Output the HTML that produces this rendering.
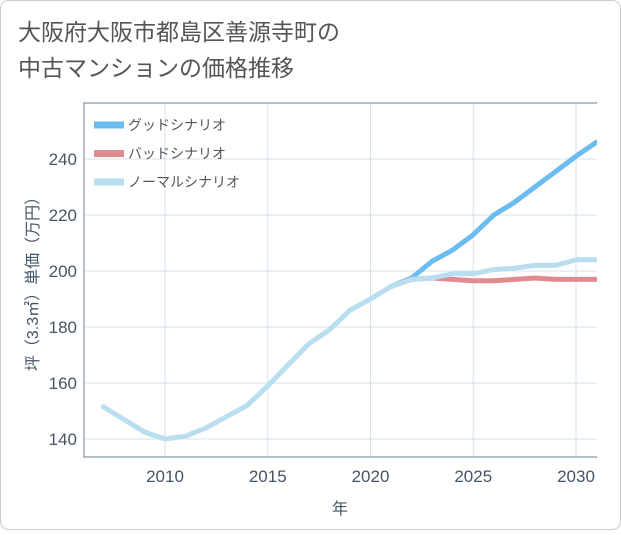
<!DOCTYPE html>
<html><head><meta charset="utf-8">
<style>
body{margin:0;background:#fff;}
#wrap{width:621px;height:530px;position:relative;font-family:"Liberation Sans","Noto Sans CJK JP",sans-serif;}
</style></head>
<body>
<div id="wrap">
<svg id="chart" width="621" height="530" xmlns="http://www.w3.org/2000/svg">
<rect x="0.5" y="0.5" width="620" height="529" rx="8" fill="#fff" stroke="#ccc"/>
<text x="18" y="40" font-size="23" fill="#555">大阪府大阪市都島区善源寺町の</text>
<text x="18" y="76" font-size="23" fill="#555">中古マンションの価格推移</text>
<g id="grid"></g>
<g id="series"></g>
<g id="legend"></g>
<text x="340" y="514" font-size="16" fill="#456" text-anchor="middle">年</text>
<text transform="translate(38,280) rotate(-90)" font-size="16" fill="#456" text-anchor="middle">坪（3.3㎡）単価（万円）</text>
</svg>
</div>
<script>
const years=[2007,2008,2009,2010,2011,2012,2013,2014,2015,2016,2017,2018,2019,2020,2021,2022,2023,2024,2025,2026,2027,2028,2029,2030,2031];
const normalVals=[151.5,147,142.5,140,141,144,148,152,159,166.5,174,179,186,190,194.5,197,197.5,199,199,200.5,201,202,202,204,204];
const goodYears=[2021,2022,2023,2024,2025,2026,2027,2028,2029,2030,2031];
const goodVals=[194.5,197.5,203.5,207.5,213,220,224.5,230,235.5,241,246];
const badYears=[2021,2022,2023,2024,2025,2026,2027,2028,2029,2030,2031];
const badVals=[194.5,197,197.5,197,196.5,196.5,197,197.5,197,197,197];
const xTicks=[2010,2015,2020,2025,2030];
const yTicks=[140,160,180,200,220,240];
const legendLabels=["グッドシナリオ","バッドシナリオ","ノーマルシナリオ"];
const L=84,R=597,T=103,B=457;
const x=v=>165+(v-2010)*20.55;
const y=v=>439-(v-140)*2.8;
const NS="http://www.w3.org/2000/svg";
function mk(tag,attrs,parent){const e=document.createElementNS(NS,tag);for(const k in attrs)e.setAttribute(k,attrs[k]);parent.appendChild(e);return e;}
const grid=document.getElementById('grid');
xTicks.forEach(t=>{
 const l=mk('line',{x1:x(t),x2:x(t),y1:T,y2:B,stroke:'#d5e3ee'},grid);
 
 
 const tx=mk('text',{x:x(t),y:482,'font-size':17,fill:'#456','text-anchor':'middle'},grid);
 tx.textContent=t;
 
 
});
yTicks.forEach(t=>{
 const l=mk('line',{x1:L,x2:R,y1:y(t),y2:y(t),stroke:'#d5e3ee'},grid);
 
 
 const tx=mk('text',{x:77,y:y(t)+6,'font-size':17,fill:'#456','text-anchor':'end'},grid);
 tx.textContent=t;
 
 
});
const fr=mk('path',{d:`M${R},${T}H${L}V${B}H${R}`,fill:'none',stroke:'#8a96a3','stroke-width':1.2},grid);


const ser=document.getElementById('series');
function line(xs,vs,color,name){
 const d=xs.map((v,i)=>(i?'L':'M')+x(v).toFixed(1)+','+y(vs[i]).toFixed(1)).join('');
 const p=mk('path',{d:d,fill:'none',stroke:color,'stroke-width':5,'stroke-linejoin':'round','stroke-linecap':'round'},ser);
 
 
}
const clip=mk('clipPath',{id:'cp'},document.getElementById('chart'));
mk('rect',{x:L,y:T,width:R-L,height:B-T},clip);
ser.setAttribute('clip-path','url(#cp)');
line(goodYears,goodVals,'#6bbcf0','good-scenario-line');
line(badYears,badVals,'#e08b90','bad-scenario-line');
line(years,normalVals,'#b9def0','normal-scenario-line');
const lg=document.getElementById('legend');
const colors=['#6bbcf0','#e08b90','#b9def0'];
legendLabels.forEach((s,i)=>{
 const yy=125+i*28.5;
 const r=mk('rect',{x:94,y:yy-3.5,width:30,height:7,fill:colors[i]},lg);
 
 
 const t=mk('text',{x:128,y:yy+5,'font-size':14,fill:'#555'},lg);
 t.textContent=s;
 
 
});
</script>
</body></html>
